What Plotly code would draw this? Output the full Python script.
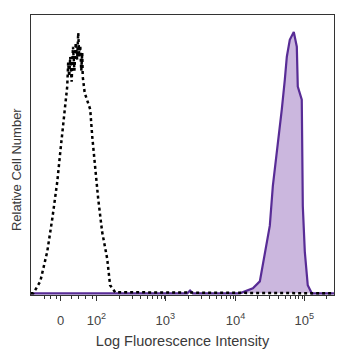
import plotly.graph_objects as go

# Positions on the display axis are given in "decade" units (3 = 10^3, 4 = 10^4 ...)
# Isotype control (dashed black)
iso_x = [1.01, 1.043, 1.145, 1.246, 1.319, 1.391, 1.435, 1.478, 1.507, 1.536, 1.55, 1.565,
         1.58, 1.60, 1.62, 1.64, 1.66, 1.68, 1.696, 1.71, 1.725, 1.74, 1.754, 1.761,
         1.79, 1.826, 1.870, 1.899, 1.942, 1.986, 2.043, 2.116, 2.159, 2.232, 5.41]
iso_y = [0, 0, 4.3, 15.0, 26.8, 40.0, 50.7, 60.0, 67.1, 74.3, 82.9, 78.0,
         85.0, 76.0, 88.6, 80.0, 90.0, 84.0, 93.6, 85.0, 89.0, 80.0, 86.4, 77.9,
         72.0, 69.6, 66.1, 56.4, 44.6, 33.9, 22.1, 12.5, 2.9, 0.4, 0]

# Stained sample (filled purple)
pos_x = [1.01, 2.5, 3.28, 3.32, 3.36, 4.043, 4.232, 4.333, 4.406, 4.478, 4.522, 4.594,
         4.652, 4.696, 4.725, 4.768, 4.826, 4.870, 4.884, 4.942, 4.949, 4.957, 4.986,
         5.029, 5.087, 5.41]
pos_y = [0, 0, 0, 1.0, 0, 0, 1.8, 4.3, 15.0, 24.3, 38.6, 52.9,
         66.1, 76.8, 85.0, 91.1, 93.9, 88.6, 74.3, 69.6, 50.7, 31.4, 15.0,
         2.9, 0, 0]

tick_vals = [1.44, 1.96, 2.96, 3.98, 4.98]
tick_text = ["0", "10<sup>2</sup>", "10<sup>3</sup>", "10<sup>4</sup>", "10<sup>5</sup>"]
minor_vals = [1.2, 1.3, 1.38, 1.6, 1.7, 1.8, 1.9,
              2.30, 2.48, 2.60, 2.70, 2.78, 2.85, 2.90, 2.95,
              3.30, 3.48, 3.60, 3.70, 3.78, 3.85, 3.90, 3.95,
              4.30, 4.48, 4.60, 4.70, 4.78, 4.85, 4.90, 4.95, 5.30]

fig = go.Figure()
fig.add_trace(go.Scatter(x=pos_x, y=pos_y, mode="lines", fill="tozeroy",
                         fillcolor="rgb(203,183,222)",
                         line=dict(color="rgb(88,44,150)", width=2.2),
                         showlegend=False, hoverinfo="skip"))
fig.add_trace(go.Scatter(x=iso_x, y=iso_y, mode="lines",
                         line=dict(color="black", width=2.5, dash="dot"),
                         showlegend=False, hoverinfo="skip"))

# page body has an 8px default margin, so the figure is sized 350x350
fig.update_layout(
    width=350, height=350,
    margin=dict(l=23, r=24, t=7, b=63),
    paper_bgcolor="white", plot_bgcolor="white",
    font=dict(family="Liberation Sans, Arial, sans-serif", color="#3a3a3a"),
    xaxis=dict(range=[1.01, 5.41], tickmode="array", tickvals=tick_vals,
               ticktext=tick_text, ticks="outside", ticklen=5, tickcolor="#333",
               ticklabelstandoff=8,
               tickfont=dict(size=13, color="#444"), automargin=False,
               showgrid=False, zeroline=False, showline=True, linecolor="#333",
               linewidth=1.2, mirror=True,
               minor=dict(tickmode="array", tickvals=minor_vals, ticks="outside",
                          ticklen=3, tickcolor="#333"),
               title=dict(text="Log Fluorescence Intensity", standoff=9,
                          font=dict(size=14.5, color="#3a3a3a"))),
    yaxis=dict(range=[-0.6, 100], showticklabels=False, ticks="",
               showgrid=False, zeroline=False, showline=True, linecolor="#333",
               linewidth=1.2, mirror=True, automargin=False),
    annotations=[dict(text="Relative Cell Number", textangle=-90,
                      xref="paper", yref="paper", x=0, y=0.446,
                      xanchor="center", yanchor="middle", xshift=-15,
                      showarrow=False, font=dict(size=13, color="#3a3a3a"))],
)

fig.write_html("out.html")
